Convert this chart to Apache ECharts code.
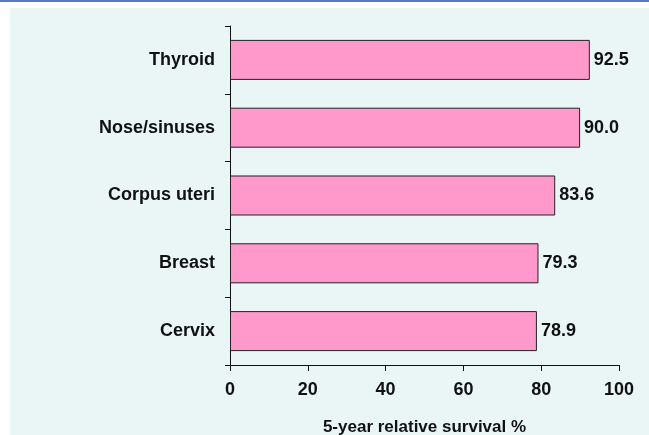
<!DOCTYPE html>
<html>
<head>
<meta charset="utf-8">
<style>
  html, body { margin: 0; padding: 0; background: #ffffff; }
  #main { width: 649px; height: 435px; }
</style>
<script src="https://cdn.jsdelivr.net/npm/echarts@6/dist/echarts.min.js"></script>
</head>
<body>
<div id="main"></div>
<script>
// cancer sites, bottom to top
var sites = ['Cervix', 'Breast', 'Corpus uteri', 'Nose/sinuses', 'Thyroid'];
var survival = [78.9, 79.3, 83.6, 90.0, 92.5];
var xTicks = [0, 20, 40, 60, 80, 100];

var chart = echarts.init(document.getElementById('main'));
var font = 'Arial, "Liberation Sans", sans-serif';

var options = {
  animation: false,
  backgroundColor: '#ffffff',
  graphic: [
    { type: 'rect', z: -10, shape: { x: 10, y: 8, width: 639, height: 427 }, style: { fill: '#eaf6f6' } },
    { type: 'rect', z: -10, shape: { x: 0, y: 0, width: 649, height: 2 }, style: { fill: '#5b79bd' } }
  ],
  grid: { left: 230, right: 30, top: 26, bottom: 70, outerBoundsMode: 'none' },
  xAxis: {
    type: 'value',
    min: xTicks[0],
    max: xTicks[xTicks.length - 1],
    interval: 20,
    name: '5-year relative survival %',
    nameLocation: 'middle',
    nameGap: 54,
    nameTextStyle: { fontFamily: font, fontWeight: 'bold', fontSize: 17, color: '#111' },
    axisLine: { show: true, lineStyle: { color: '#111', width: 1 } },
    axisTick: { show: true, length: 6, lineStyle: { color: '#111' } },
    axisLabel: { fontFamily: font, fontWeight: 'bold', fontSize: 18, color: '#111', margin: 16 },
    splitLine: { show: false }
  },
  yAxis: {
    type: 'category',
    data: sites,
    axisLine: { show: true, lineStyle: { color: '#111', width: 1 } },
    axisTick: { show: true, length: 5, lineStyle: { color: '#111' } },
    axisLabel: { fontFamily: font, fontWeight: 'bold', fontSize: 18, color: '#111', margin: 15 }
  },
  series: [
    {
      type: 'bar',
      data: survival,
      barCategoryGap: '41%',
      itemStyle: { color: '#ff99cc', borderColor: '#222', borderWidth: 1 },
      label: {
        show: true,
        position: 'right',
        distance: 4,
        fontFamily: font,
        fontWeight: 'bold',
        fontSize: 18,
        color: '#111',
        formatter: function(p) { return p.value.toFixed(1); }
      }
    }
  ]
};
chart.setOption(options);
</script>
</body>
</html>
